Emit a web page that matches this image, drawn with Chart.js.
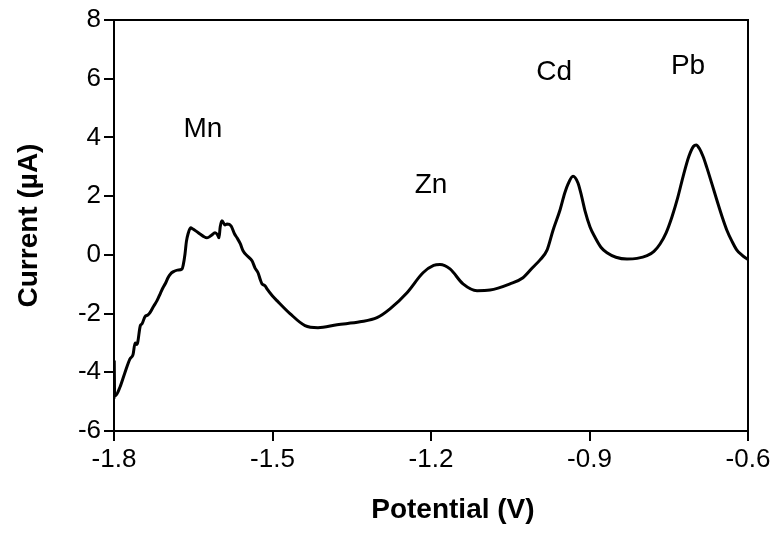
<!DOCTYPE html>
<html>
<head>
<meta charset="utf-8">
<script src="https://cdn.jsdelivr.net/npm/chart.js@4/dist/chart.umd.min.js"></script>
<style>
html,body{margin:0;padding:0;background:#fff;}
#wrap{width:779px;height:538px;position:relative;}
</style>
</head>
<body>
<div id="wrap"><canvas id="c" width="779" height="538"></canvas></div>
<script>
// Potential (V)
const potential = [
 -1.8000,-1.7995,-1.7990,-1.7975,-1.7886,-1.7800,-1.7700,-1.7640,-1.7600,-1.7565,-1.7500,-1.7470,-1.7413,
 -1.7360,-1.7319,-1.7250,-1.7186,-1.7120,-1.7073,-1.7020,-1.6978,-1.6930,-1.6883,-1.6800,-1.6713,-1.6690,
 -1.6656,-1.6630,-1.6599,-1.6550,-1.6505,-1.6440,-1.6372,-1.6300,-1.6240,-1.6160,-1.6088,-1.6040,-1.6013,
 -1.5990,-1.5956,-1.5900,-1.5861,-1.5785,-1.5720,-1.5672,-1.5610,-1.5558,-1.5470,-1.5388,-1.5330,-1.5274,
 -1.5230,-1.5199,-1.5142,-1.5104,-1.5000,-1.4915,-1.4669,-1.4385,-1.4139,-1.3779,-1.3344,-1.3022,-1.2776,
 -1.2454,-1.2151,-1.1950,-1.1830,-1.1640,-1.1394,-1.1129,-1.0883,-1.0505,-1.0259,-1.0070,-0.9940,-0.9804,
 -0.9690,-0.9558,-0.9470,-0.9407,-0.9312,-0.9218,-0.9150,-0.9085,-0.8990,-0.8896,-0.8780,-0.8669,-0.8500,
 -0.8290,-0.8100,-0.7911,-0.7780,-0.7665,-0.7550,-0.7438,-0.7330,-0.7230,-0.7120,-0.7030,-0.6980,-0.6920,
 -0.6850,-0.6780,-0.6680,-0.6590,-0.6490,-0.6400,-0.6300,-0.6210,-0.6120,-0.6050,-0.6000
];
// Current (µA)
const current = [
 -4.90,-3.65,-4.75,-4.80,-4.50,-4.05,-3.55,-3.40,-3.00,-3.05,-2.40,-2.35,-2.10,
 -2.05,-1.97,-1.75,-1.56,-1.30,-1.12,-0.95,-0.78,-0.65,-0.58,-0.52,-0.48,-0.35,
  0.03, 0.45, 0.71, 0.92, 0.88, 0.80, 0.71, 0.62, 0.58, 0.66, 0.75, 0.68, 0.58,
  0.95, 1.16, 1.02, 1.05, 0.99, 0.72, 0.58, 0.38, 0.14,-0.05,-0.20,-0.45,-0.61,
 -0.85,-0.99,-1.05,-1.16,-1.40,-1.56,-2.00,-2.41,-2.48,-2.38,-2.28,-2.14,-1.84,
 -1.29,-0.61,-0.36,-0.33,-0.48,-0.99,-1.22,-1.20,-0.99,-0.78,-0.42,-0.18, 0.16,
  0.84, 1.53, 2.10, 2.41, 2.68, 2.45, 2.00, 1.50, 0.95, 0.60, 0.25, 0.07,-0.08,
 -0.14,-0.12,-0.03, 0.12, 0.37, 0.75, 1.30, 1.95, 2.66, 3.35, 3.70, 3.74, 3.62,
  3.35, 2.98, 2.40, 1.87, 1.30, 0.84, 0.45, 0.16, 0.00,-0.10,-0.15
];
const xTicks = [-1.8,-1.5,-1.2,-0.9,-0.6];
const yTicks = [-6,-4,-2,0,2,4,6,8];
const xTitle = 'Potential (V)';
const yTitle = 'Current (\u00b5A)';
const peakLabels = ['Mn','Zn','Cd','Pb'];
const peakX = [-1.6316,-1.2000,-0.9670,-0.7135];
const peakY = [4.28,2.38,6.23,6.43];

const FONT = "'Liberation Sans', Arial, sans-serif";

const boxPlugin = {
  id:'box',
  afterDraw(chart){
    const {ctx, chartArea:a} = chart;
    ctx.save();
    ctx.strokeStyle='#000'; ctx.lineWidth=2;
    ctx.strokeRect(a.left, a.top, a.right-a.left, a.bottom-a.top);
    ctx.restore();
  }
};
const labelPlugin = {
  id:'peaks',
  afterDatasetsDraw(chart){
    const {ctx, scales} = chart;
    ctx.save();
    ctx.fillStyle='#000';
    ctx.font = "28px " + FONT;
    ctx.textAlign='center'; ctx.textBaseline='middle';
    peakLabels.forEach((t,i)=>{
      ctx.fillText(t, scales.x.getPixelForValue(peakX[i]), scales.y.getPixelForValue(peakY[i]));
    });
    // x axis title (slightly right of plot centre, as in the reference)
    ctx.font = "bold 28px " + FONT;
    ctx.fillText(xTitle, scales.x.getPixelForValue(-1.1585), 510);
    ctx.restore();
  }
};

new Chart(document.getElementById('c'), {
  type:'line',
  data:{
    datasets:[{
      data: potential.map((v,i)=>({x:v, y:current[i]})),
      borderColor:'#000', borderWidth:3, pointRadius:0, cubicInterpolationMode:'monotone', fill:false
    }]
  },
  options:{
    responsive:false, animation:false,
    layout:{padding:{top:20,right:31,left:12,bottom:0}},
    plugins:{legend:{display:false}, tooltip:{enabled:false}},
    scales:{
      x:{
        type:'linear', min:-1.8, max:-0.6,
        afterBuildTicks(s){ s.ticks = xTicks.map(v=>({value:v})); },
        afterFit(s){ s.height = 107; },
        grid:{drawOnChartArea:false, drawTicks:true, tickLength:10, color:'#000', lineWidth:2},
        border:{color:'#000', width:2},
        ticks:{color:'#000', font:{family:FONT, size:26}, padding:3, maxRotation:0,
               callback:v=>v.toFixed(1)},
        title:{display:false}
      },
      y:{
        type:'linear', min:-6, max:8,
        afterBuildTicks(s){ s.ticks = yTicks.map(v=>({value:v})); },
        afterFit(s){ s.width = 102; },
        grid:{drawOnChartArea:false, drawTicks:true, tickLength:10, color:'#000', lineWidth:2},
        border:{color:'#000', width:2},
        ticks:{color:'#000', font:{family:FONT, size:26}, padding:3, callback:v=>String(v)},
        title:{display:true, text:yTitle, color:'#000', font:{family:FONT, size:28, weight:'bold'}, padding:{top:0,bottom:0}}
      }
    }
  },
  plugins:[boxPlugin, labelPlugin]
});
</script>
</body>
</html>
